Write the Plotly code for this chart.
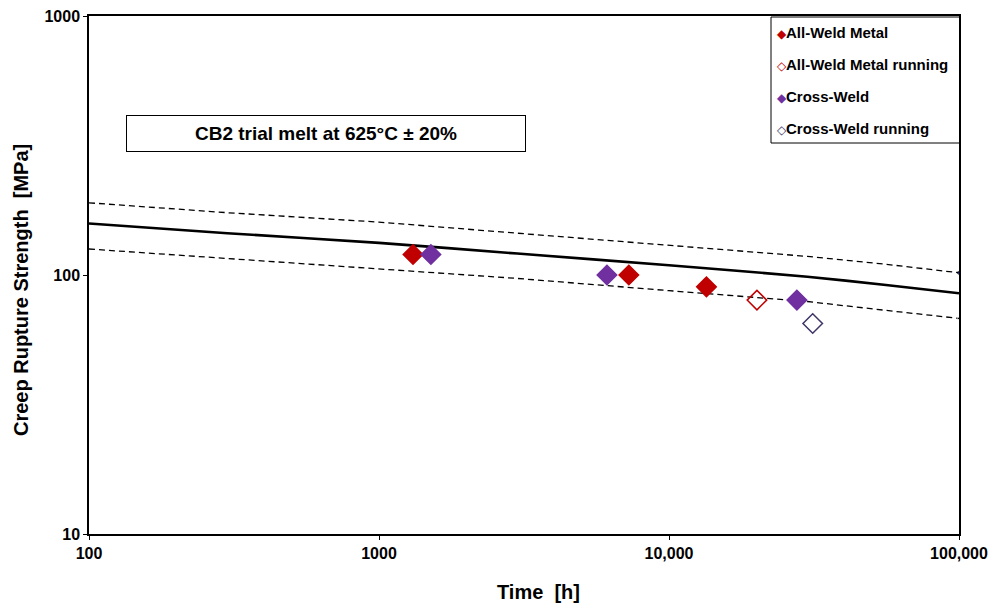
import plotly.graph_objects as go

# Fitted curve
curve_t = [100, 300, 1000, 3000, 10000, 30000, 56000, 100000]
curve_mean = [158, 145, 133, 121, 109, 98.5, 91.5, 85]
curve_upper = [190, 174, 160, 145, 131, 118, 110, 102]
curve_lower = [126, 116, 106, 97, 87, 79, 73, 68]

# Data points
awm_t = [1310, 7270, 13460]
awm_s = [120, 100, 90]
awm_run_t = [20100]
awm_run_s = [80]
cw_t = [1510, 6110, 27600]
cw_s = [120, 100, 80]
cw_run_t = [31300]
cw_run_s = [65]

x_ticks = [100, 1000, 10000, 100000]
x_ticklabels = ["100", "1000", "10,000", "100,000"]
y_ticks = [10, 100, 1000]
y_ticklabels = ["10", "100", "1000"]

FONT = "Liberation Sans, Arial, sans-serif"
RED = "#C00000"
PURPLE = "#7030A0"
DARK = "#3F3466"

ML, MR, MT, MB = 89, 31, 16, 70
W, H = 990, 604
PW, PH = W - ML - MR, H - MT - MB


def px_x(p):
    return (p - ML) / PW


def px_y(p):
    return 1 - (p - MT) / PH


end_marker = [0] * (len(curve_t) - 1) + [3]

fig = go.Figure()

fig.add_trace(go.Scatter(x=curve_t, y=curve_upper, mode="lines+markers",
                         line=dict(color="black", width=1.3, dash="6px,4px"),
                         marker=dict(size=end_marker, color="#1f1fd0"),
                         showlegend=False, hoverinfo="skip"))
fig.add_trace(go.Scatter(x=curve_t, y=curve_lower, mode="lines+markers",
                         line=dict(color="black", width=1.3, dash="6px,4px"),
                         marker=dict(size=end_marker, color="black"),
                         showlegend=False, hoverinfo="skip"))
fig.add_trace(go.Scatter(x=curve_t, y=curve_mean, mode="lines",
                         line=dict(color="black", width=2.6, shape="spline", smoothing=0.6),
                         showlegend=False, hoverinfo="skip"))

series = [
    ("All-Weld Metal", awm_t, awm_s, "diamond", RED, "◆"),
    ("All-Weld Metal running", awm_run_t, awm_run_s, "diamond-open", RED, "◇"),
    ("Cross-Weld", cw_t, cw_s, "diamond", PURPLE, "◆"),
    ("Cross-Weld running", cw_run_t, cw_run_s, "diamond-open", DARK, "◇"),
]
legend_rows = [32, 64, 96, 128]
for (name, xs, ys, sym, col, glyph), row in zip(series, legend_rows):
    fig.add_trace(go.Scatter(x=xs, y=ys, mode="markers", name=name,
                             marker=dict(symbol=sym, size=15, color=col,
                                         line=dict(color=col, width=1.5)),
                             showlegend=False))
    fig.add_annotation(x=px_x(775), y=px_y(row), xref="paper", yref="paper",
                       xanchor="left", yanchor="middle", showarrow=False,
                       text="<span style='color:%s;font-size:12px'>%s</span><b>%s</b>" % (col, glyph, name),
                       font=dict(family=FONT, size=15, color="black"))

# legend frame
fig.add_shape(type="rect", xref="paper", yref="paper",
              x0=px_x(771), x1=px_x(960), y0=px_y(143), y1=px_y(17),
              line=dict(color="black", width=1), fillcolor="white", layer="below")

fig.add_annotation(x=px_x(325.7), y=px_y(133), xref="paper", yref="paper",
                   xanchor="center", yanchor="middle",
                   text="<b>CB2 trial melt at 625°C ± 20%</b>",
                   showarrow=False, font=dict(family=FONT, size=19, color="black"),
                   bordercolor="black", borderwidth=1, borderpad=0,
                   width=398, height=35, bgcolor="white")

# axis titles
fig.add_annotation(x=px_x(538), y=px_y(592), xref="paper", yref="paper",
                   xanchor="center", yanchor="middle", showarrow=False,
                   text="<b>Time  [h]</b>", font=dict(family=FONT, size=20, color="black"))
fig.add_annotation(x=px_x(21), y=px_y(290), xref="paper", yref="paper",
                   xanchor="center", yanchor="middle", showarrow=False, textangle=-90,
                   text="<b>Creep Rupture Strength  [MPa]</b>",
                   font=dict(family=FONT, size=20, color="black"))

fig.update_layout(
    width=W, height=H,
    margin=dict(l=ML, r=MR, t=MT, b=MB),
    paper_bgcolor="white", plot_bgcolor="white",
    font=dict(family=FONT, color="black"),
    showlegend=False,
    xaxis=dict(type="log", range=[2, 5], tickvals=x_ticks, ticktext=x_ticklabels,
               showgrid=False, showline=True, linecolor="black", linewidth=1.5,
               mirror=True, ticks="outside", ticklen=4, tickcolor="black",
               tickfont=dict(family=FONT, size=16, color="black", weight="bold"),
               zeroline=False, automargin=False),
    yaxis=dict(type="log", range=[1, 3], tickvals=y_ticks, ticktext=y_ticklabels,
               showgrid=False, showline=True, linecolor="black", linewidth=1.5,
               mirror=True, ticks="outside", ticklen=4, tickcolor="black",
               tickfont=dict(family=FONT, size=16, color="black", weight="bold"),
               zeroline=False, automargin=False),
)

fig.write_html("out.html", config={"displayModeBar": False},
               post_script="document.body.style.margin='0px';document.body.style.overflow='hidden';")
